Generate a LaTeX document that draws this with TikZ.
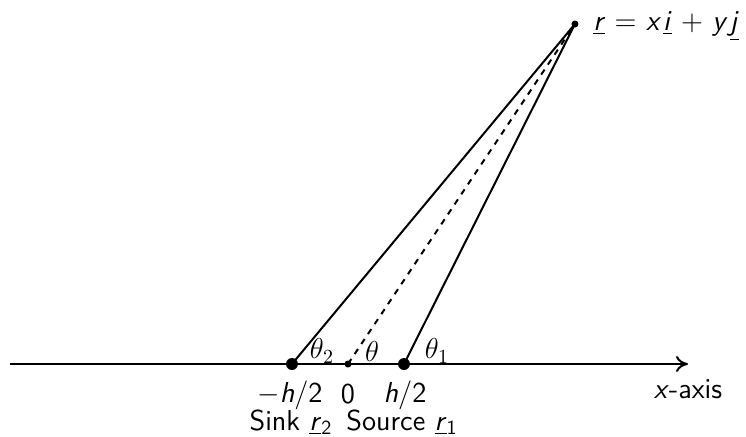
\documentclass[tikz,border=0pt]{standalone}
\usetikzlibrary{arrows.meta}
\renewcommand{\familydefault}{\sfdefault}
\newcommand{\sv}[1]{\textsl{#1}}
\newcommand{\uv}[1]{\underline{\textsl{#1}}}
\begin{document}
\begin{tikzpicture}[x=0.5pt,y=0.5pt,
  lbl/.style={font=\Large, inner sep=1pt},
  ln/.style={line width=1pt},
  bigdot/.style={circle, fill=black, inner sep=0pt, minimum size=6pt},
  smalldot/.style={circle, fill=black, inner sep=0pt, minimum size=3.5pt}]
\useasboundingbox (-348,-72) rectangle (398,364);
\coordinate (L) at (-338,0);
\coordinate (R) at (340,0);
\node[bigdot] (sink) at (-56,0) {};
\node[smalldot] (O) at (0,0) {};
\node[bigdot] (src) at (56,0) {};
\node[smalldot] (P) at (227,340) {};
\draw[ln, -{To[length=6pt,width=8pt]}] (L) -- (R);
\draw[ln] (sink.center) -- (P.center);
\draw[ln] (src.center) -- (P.center);
\draw[ln, dashed] (O.center) -- (P.center);
\node[lbl, anchor=west] (rlab) at (243,338) {\uv{r} = \sv{x}\kern1pt\uv{i} + \sv{y}\kern1pt\uv{j}};
\node[lbl] (t2) at (-26,13) {$\theta_2$};
\node[lbl] (t0) at (24,13) {$\theta$};
\node[lbl] (t1) at (89,13) {$\theta_1$};
\node[lbl] (mh) at (-58,-31) {$-$\sv{h}/2};
\node[lbl] (zero) at (0,-30) {0};
\node[lbl] (ph) at (57,-31) {\sv{h}/2};
\node[lbl] (sinklab) at (-57,-58) {Sink \uv{r}\textsubscript{2}};
\node[lbl] (srclab) at (54,-58) {Source \uv{r}\textsubscript{1}};
\node[lbl] (xlab) at (340,-25) {\sv{x}-axis};
\end{tikzpicture}
\end{document}
